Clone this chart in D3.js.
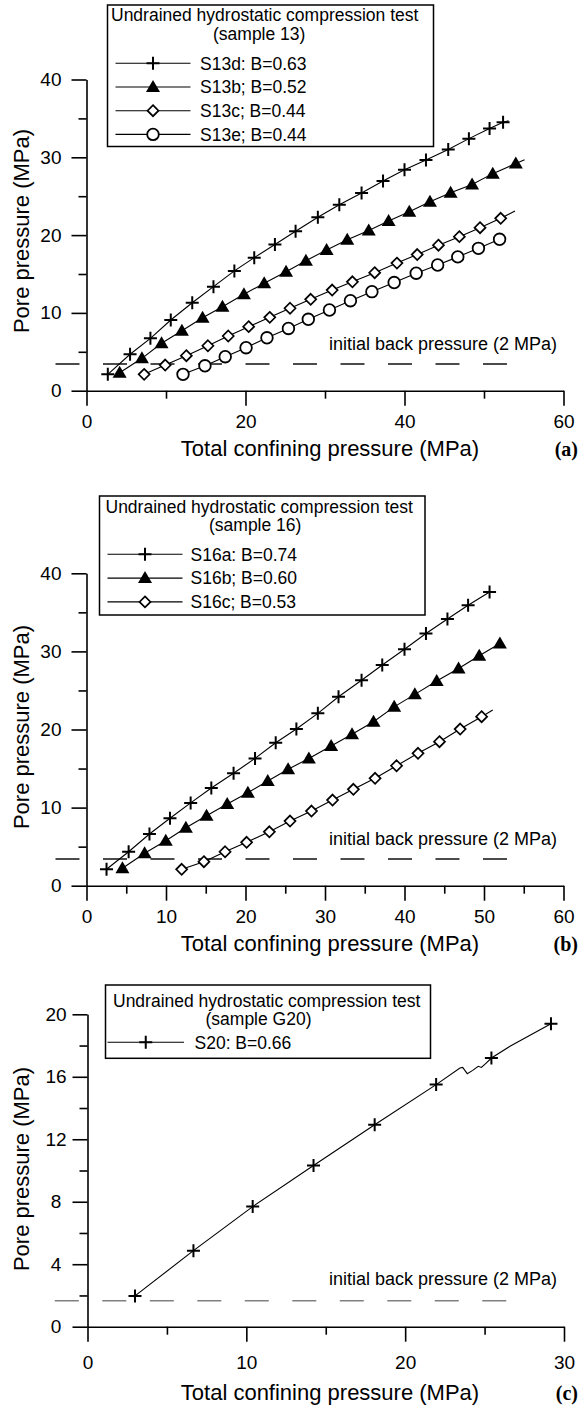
<!DOCTYPE html>
<html><head><meta charset="utf-8">
<script src="https://cdn.jsdelivr.net/npm/d3@7"></script>
<style>
body{margin:0;background:#fff}
svg{display:block}
text{font-family:"Liberation Sans",Arial,sans-serif;fill:#000}
</style></head><body>
<svg id="chart" width="580" height="1409"></svg>
<script>
// ---------- DATA ----------
// Panel (a): sample 13  [total confining pressure, pore pressure] in MPa
const s13d = [[2.68,2.1],[5.48,4.68],[8.04,6.73],[10.6,9.09],[13.3,11.3],[15.97,13.37],[18.6,15.4],[21.1,17.1],[23.7,18.8],[26.3,20.5],[29.1,22.3],[31.8,23.9],[34.6,25.4],[37.3,26.95],[40.0,28.4],[42.7,29.65],[45.5,31.0],[48.1,32.4],[50.7,33.7],[52.4,34.5]];
const s13b = [[4.17,2.31],[6.97,4.16],[9.44,6.09],[12.0,7.71],[14.6,9.38],[17.1,10.8],[19.8,12.4],[22.35,13.8],[25.1,15.3],[27.6,16.7],[30.2,18.1],[32.8,19.4],[35.5,20.6],[38.0,21.8],[40.6,23.0],[43.2,24.3],[45.8,25.45],[48.5,26.5],[51.1,27.9],[54.0,29.2]];
const s13c = [[7.25,2.1],[9.9,3.3],[12.56,4.5],[15.27,5.78],[17.83,7.03],[20.4,8.23],[23.05,9.43],[25.6,10.6],[28.2,11.75],[30.9,12.94],[33.45,14.0],[36.25,15.17],[39.05,16.4],[41.6,17.5],[44.27,18.7],[46.9,19.8],[49.5,20.95],[52.1,22.16]];
const s13e = [[12.14,2.1],[14.9,3.2],[17.45,4.37],[20.07,5.53],[22.7,6.8],[25.4,8.0],[27.9,9.18],[30.56,10.37],[33.2,11.57],[35.9,12.73],[38.7,13.9],[41.47,15.1],[44.17,16.16],[46.7,17.2],[49.3,18.3],[51.96,19.46]];
// where some fitted lines run on past their last marker
const s13dEnd = [53.1,34.7];
const s13bEnd = [55.1,29.7];
const s13cEnd = [53.9,23.1];

// Panel (b): sample 16
const s16a = [[2.52,2.1],[5.3,4.35],[7.92,6.62],[10.5,8.63],[13.1,10.6],[15.7,12.5],[18.5,14.4],[21.2,16.3],[23.8,18.3],[26.4,20.06],[29.1,22.07],[31.7,24.2],[34.6,26.3],[37.2,28.26],[40.0,30.27],[42.7,32.3],[45.4,34.15],[48.0,35.9],[50.7,37.6]];
const s16b = [[4.52,2.23],[7.31,4.15],[9.97,5.76],[12.5,7.43],[15.1,8.96],[17.7,10.46],[20.3,11.9],[22.8,13.4],[25.36,14.9],[27.97,16.3],[30.77,17.9],[33.4,19.4],[36.1,21.0],[38.7,22.9],[41.3,24.5],[44.05,26.2],[46.8,27.8],[49.4,29.45],[52.0,31.0]];
const s16c = [[11.97,2.1],[14.77,3.07],[17.43,4.35],[20.14,5.56],[23.0,6.9],[25.6,8.28],[28.3,9.56],[30.95,10.97],[33.57,12.34],[36.3,13.75],[39.0,15.36],[41.7,16.95],[44.4,18.44],[47.0,20.06],[49.7,21.64]];
const s16cEnd = [51.1,22.5];

// Panel (c): sample G20
const s20Markers = [[2.99,1.97],[6.67,4.87],[10.40,7.69],[14.23,10.32],[18.08,12.93],[21.95,15.5],[25.43,17.2],[29.18,19.4]];
const s20Trace = [[2.99,1.97],[6.67,4.87],[10.40,7.69],[14.23,10.32],[18.08,12.93],[21.95,15.5],[23.45,16.56],[23.62,16.6],[23.91,16.2],[24.25,16.41],[24.6,16.67],[24.8,16.6],[25.1,16.88],[25.43,17.2],[26.6,17.95],[29.18,19.4]];

// Axis ticks
const xTicksA = [0,20,40,60], xMinorA = [10,30,50];
const yTicksA = [0,10,20,30,40], yMinorA = [5,15,25,35];
const xTicksB = [0,10,20,30,40,50,60], xMinorB = [5,15,25,35,45,55];
const yTicksB = [0,10,20,30,40], yMinorB = [5,15,25,35];
const xTicksC = [0,10,20,30], xMinorC = [5,15,25];
const yTicksC = [0,4,8,12,16,20], yMinorC = [2,6,10,14,18];

// Back-pressure reference lines [y, xStart, xEnd] and label anchor [x, y]
const backA = [3.43,-3.9,52.9], backLabelA = [30.5,5.23];
const backB = [3.42,-3.9,52.9], backLabelB = [30.5,5.21];
const backC = [1.66,-2.06,26.44], backLabelC = [15.2,2.67];

// Texts
const xTitle = "Total confining pressure (MPa)";
const yTitle = "Pore pressure (MPa)";
const backText = "initial back pressure (2 MPa)";
const legTitle = "Undrained hydrostatic compression test";
const legSubA = "(sample 13)", legSubB = "(sample 16)", legSubC = "(sample G20)";
const namesA = ["S13d: B=0.63","S13b; B=0.52","S13c; B=0.44","S13e; B=0.44"];
const namesB = ["S16a: B=0.74","S16b; B=0.60","S16c; B=0.53"];
const namesC = ["S20: B=0.66"];

// ---------- DRAWING ----------
const svg = d3.select("#chart");
const FONT = '"Liberation Sans", Arial, sans-serif';

function marker(g, type, cx, cy){
  if(type==="plus"){
    g.append("path").attr("d",`M${cx-6.5},${cy}H${cx+6.5}M${cx},${cy-6.5}V${cy+6.5}`)
      .attr("stroke","#000").attr("stroke-width",2).attr("fill","none");
  } else if(type==="tri"){
    g.append("path").attr("d",`M${cx},${cy-7}L${cx+7},${cy+5}L${cx-7},${cy+5}Z`).attr("fill","#000");
  } else if(type==="dia"){
    g.append("path").attr("d",`M${cx},${cy-5.5}L${cx+5.5},${cy}L${cx},${cy+5.5}L${cx-5.5},${cy}Z`)
      .attr("fill","#fff").attr("stroke","#000").attr("stroke-width",1.7);
  } else if(type==="circ"){
    g.append("circle").attr("cx",cx).attr("cy",cy).attr("r",5.8)
      .attr("fill","#fff").attr("stroke","#000").attr("stroke-width",1.8);
  }
}

function panel(cfg){
  const g = svg.append("g");
  const x = d3.scaleLinear().domain(cfg.xDom).range(cfg.xRange);
  const y = d3.scaleLinear().domain(cfg.yDom).range(cfg.yRange);
  const styleAxis = a => {
    a.attr("font-family",FONT).attr("font-size",19);
    a.selectAll("path,line").attr("stroke","#000").attr("stroke-width",1.6);
  };
  // x axis
  g.append("g").attr("transform",`translate(0,${y(0)})`)
    .call(d3.axisBottom(x).tickValues(cfg.xTicks).tickSize(15).tickSizeOuter(0).tickPadding(cfg.xPad).tickFormat(d3.format("d")))
    .call(styleAxis);
  g.append("g").attr("transform",`translate(0,${y(0)})`)
    .call(d3.axisBottom(x).tickValues(cfg.xMinor).tickSize(8).tickSizeOuter(0).tickFormat(""))
    .call(a=>{a.select(".domain").remove(); styleAxis(a);});
  // y axis
  const ya = d3.axisLeft(y).tickValues(cfg.yTicks).tickSize(15).tickSizeOuter(0).tickPadding(cfg.yPad).tickFormat(d3.format("d"));
  g.append("g").attr("transform",`translate(${x(0)},0)`).call(ya).call(styleAxis)
    .call(a=>{ if(cfg.yAnchor) a.selectAll("text").attr("text-anchor",cfg.yAnchor).attr("x",cfg.yLabelX); });
  g.append("g").attr("transform",`translate(${x(0)},0)`)
    .call(d3.axisLeft(y).tickValues(cfg.yMinor).tickSize(8).tickSizeOuter(0).tickFormat(""))
    .call(a=>{a.select(".domain").remove(); styleAxis(a);});

  // back pressure dashed line
  g.append("line").attr("x1",x(cfg.back[1])).attr("x2",x(cfg.back[2]))
    .attr("y1",y(cfg.back[0])).attr("y2",y(cfg.back[0]))
    .attr("stroke",cfg.backColor).attr("stroke-width",1.3).attr("stroke-dasharray","24 23.5");
  g.append("text").attr("x",x(cfg.backLabel[0])).attr("y",y(cfg.backLabel[1]))
    .attr("font-size",18).text(backText);

  // series
  const line = d3.line().x(d=>x(d[0])).y(d=>y(d[1]));
  cfg.series.forEach(s=>{
    const pts = s.trace || (s.end ? s.data.concat([s.end]) : s.data);
    g.append("path").datum(pts).attr("d",line).attr("fill","none").attr("stroke","#000").attr("stroke-width",1.1);
  });
  cfg.series.forEach(s=>{
    s.data.forEach(d=>marker(g, s.type, x(d[0]), y(d[1])));
  });

  // titles
  g.append("text").attr("x",cfg.xTitleX).attr("y",y(0)+cfg.xTitleDy).attr("text-anchor","middle")
    .attr("font-size",22).text(xTitle);
  g.append("text").attr("x",578).attr("y",y(0)+cfg.xTitleDy).attr("text-anchor","end")
    .attr("font-size",20).attr("font-weight","bold").style("font-family",'"Liberation Serif","Times New Roman",serif').text(cfg.letter);
  g.append("text").attr("transform",`translate(29,${cfg.yTitleY}) rotate(-90)`).attr("text-anchor","middle")
    .attr("font-size",22).text(yTitle);

  // legend
  const L = cfg.legend;
  g.append("rect").attr("x",L.x).attr("y",L.y).attr("width",L.w).attr("height",L.h)
    .attr("fill","#fff").attr("stroke","#000").attr("stroke-width",1.5);
  g.append("text").attr("x",L.t1x).attr("y",L.t1y).attr("font-size",17.5).text(legTitle);
  g.append("text").attr("x",L.t2x).attr("y",L.t2y).attr("font-size",17.5).text(L.sub);
  cfg.series.forEach((s,i)=>{
    const ey = L.e0 + i*L.de;
    g.append("line").attr("x1",L.lx1).attr("x2",L.lx2).attr("y1",ey).attr("y2",ey)
      .attr("stroke","#000").attr("stroke-width",1.1);
    marker(g, s.type, (L.lx1+L.lx2)/2, ey);
    g.append("text").attr("x",L.tx).attr("y",ey).attr("dy","0.36em").attr("font-size",17.5).text(L.names[i]);
  });
}

panel({
  xDom:[0,60], xRange:[86.5,563.5], yDom:[0,40], yRange:[390.7,79.5],
  xTicks:xTicksA, xMinor:xMinorA, yTicks:yTicksA, yMinor:yMinorA, xPad:9, yPad:10,
  back:backA, backLabel:backLabelA, backColor:"#111",
  series:[{data:s13d,type:"plus",end:s13dEnd},{data:s13b,type:"tri",end:s13bEnd},{data:s13c,type:"dia",end:s13cEnd},{data:s13e,type:"circ"}],
  xTitleX:330, xTitleDy:65.3, letter:"(a)", yTitleY:231,
  legend:{x:107.5,y:5,w:326,h:141.5,t1x:111,t1y:21,t2x:213,t2y:40,sub:legSubA,
    e0:63.3,de:23.7,lx1:115.5,lx2:190.5,tx:200,names:namesA}
});
panel({
  xDom:[0,60], xRange:[86.5,563.5], yDom:[0,40], yRange:[885.7,573.3],
  xTicks:xTicksB, xMinor:xMinorB, yTicks:yTicksB, yMinor:yMinorB, xPad:9, yPad:10,
  back:backB, backLabel:backLabelB, backColor:"#111",
  series:[{data:s16a,type:"plus"},{data:s16b,type:"tri"},{data:s16c,type:"dia",end:s16cEnd}],
  xTitleX:330, xTitleDy:65.3, letter:"(b)", yTitleY:727,
  legend:{x:99.5,y:496,w:325.5,h:119,t1x:105.5,t1y:513.3,t2x:209,t2y:531,sub:legSubB,
    e0:554.3,de:23.8,lx1:107.5,lx2:182.5,tx:190.5,names:namesB}
});
panel({
  xDom:[0,30], xRange:[87.5,564], yDom:[0,20], yRange:[1326.7,1014.3],
  xTicks:xTicksC, xMinor:xMinorC, yTicks:yTicksC, yMinor:yMinorC, xPad:14, yPad:10,
  yAnchor:"middle", yLabelX:-31.5,
  back:backC, backLabel:backLabelC, backColor:"#808080",
  series:[{data:s20Markers,type:"plus",trace:s20Trace}],
  xTitleX:330, xTitleDy:73, letter:"(c)", yTitleY:1169,
  legend:{x:105.5,y:985,w:325,h:73.3,t1x:113,t1y:1007.3,t2x:205.5,t2y:1025,sub:legSubC,
    e0:1042.3,de:23.8,lx1:107.5,lx2:184,tx:194.5,names:namesC}
});
</script>
</body></html>
